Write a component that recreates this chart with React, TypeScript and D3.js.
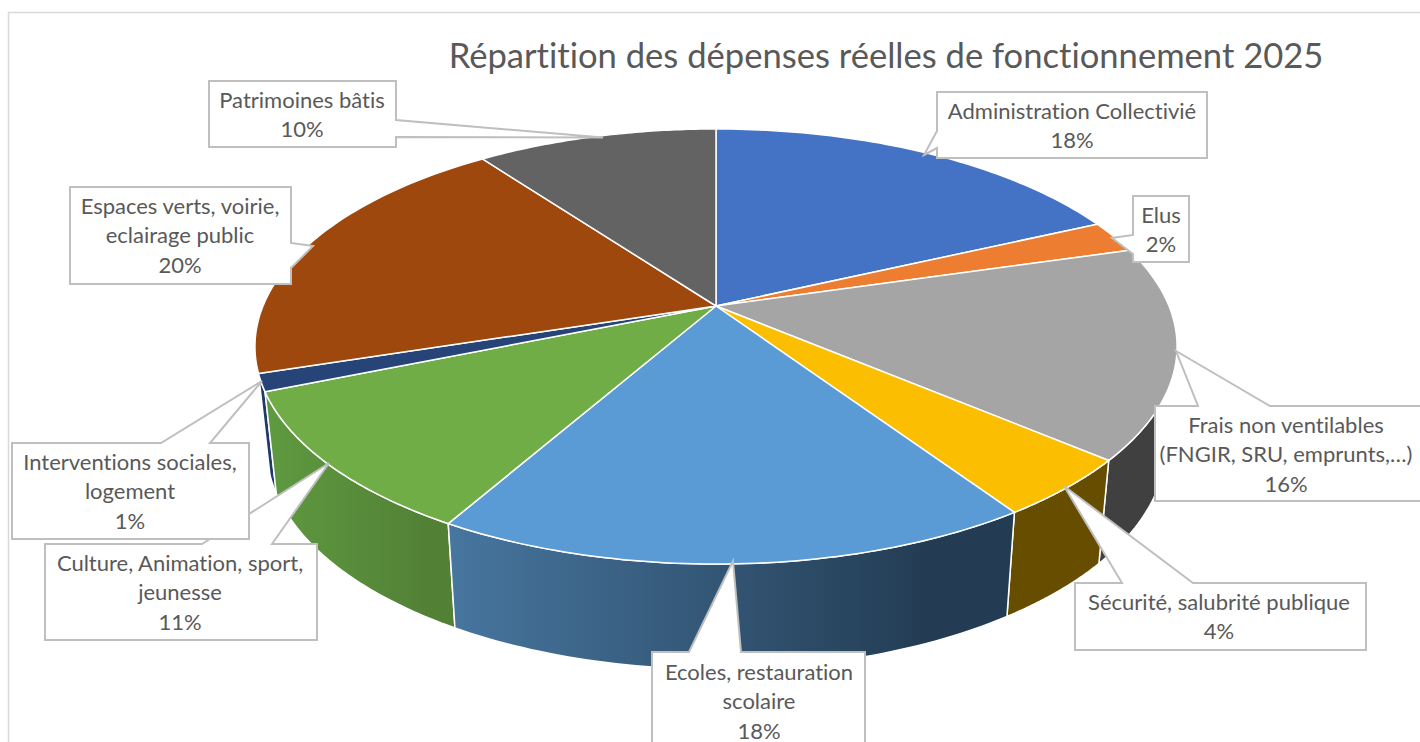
import React from "react";
import * as d3 from "d3";

const chartTitle = "Répartition des dépenses réelles de fonctionnement 2025";
const categories = [
  "Administration Collectivié", "Elus", "Frais non ventilables", "Sécurité, salubrité publique",
  "Ecoles, restauration scolaire", "Culture, Animation, sport, jeunesse", "Interventions sociales, logement",
  "Espaces verts, voirie, eclairage public", "Patrimoines bâtis",
];
const shares = [18.1, 2.4, 15.7, 4.4, 17.65, 10.55, 1.3, 19.8, 10.1];
const topColors = ["#4472c4", "#ed7d31", "#a5a5a5", "#fcbe00", "#5b9bd5", "#70ad47", "#264478", "#9e480e", "#636363"];
const wallFrom = ["#2f4f88", "#a85722", "#404040", "#664d00", "#47769f", "#5f9a40", "#1f3b6b", "#6e320a", "#454545"];
const wallTo = ["#2f4f88", "#a85722", "#404040", "#664d00", "#233c53", "#528136", "#1f3b6b", "#6e320a", "#454545"];

const W = 1420, H = 742;
const apex = { x: 716, y: 306 };
const foreshort = 0.1862, kY = 210, kX = 453;
const wall = { dy: 100, sx: 0.975, sy: 1.02 };

function rim(t: number) {
  const w = 1 + foreshort * Math.cos(t);
  return { X: (kX * Math.sin(t)) / w, Y: (-kY * Math.cos(t)) / w };
}
const topPt = (t: number): [number, number] => {
  const p = rim(t);
  return [apex.x + p.X, apex.y + p.Y];
};
const botPt = (t: number): [number, number] => {
  const p = rim(t);
  return [apex.x + wall.sx * p.X, apex.y + wall.dy + wall.sy * p.Y];
};

const arcs = d3.pie<number>().sort(null).startAngle(0).endAngle(2 * Math.PI)(shares);
const line = d3.line();
const sample = (a: number, b: number) => d3.range(0, 61).map((i) => a + ((b - a) * i) / 60);
const topPath = (a: any) => line([[apex.x, apex.y], ...sample(a.startAngle, a.endAngle).map(topPt)]) + "Z";
const wallPath = (a: any) => {
  const s = sample(a.startAngle, a.endAngle);
  return line([...s.map(topPt), ...s.slice().reverse().map(botPt)]) + "Z";
};
const frontness = (a: any) => botPt((a.startAngle + a.endAngle) / 2)[1];
const wallOrder = arcs.map((a, i) => ({ a, i })).sort((p, q) => frontness(p.a) - frontness(q.a));

// Label callouts: outline points (box with tail) and text
type Callout = { lines: string[]; cx: number; y0: number; pts: [number, number][] };
const callouts: Callout[] = [
  { lines: ["Patrimoines bâtis", "10%"], cx: 302, y0: 108,
    pts: [[209, 81], [396, 81], [396, 120], [603, 137.5], [396, 137], [396, 147], [209, 147]] },
  { lines: ["Espaces verts, voirie,", "eclairage public", "20%"], cx: 180, y0: 214,
    pts: [[70, 187], [291, 187], [291, 243], [313, 246], [291, 268], [291, 284], [70, 284]] },
  { lines: ["Administration Collectivié", "18%"], cx: 1072, y0: 119,
    pts: [[937, 92], [1207, 92], [1207, 158], [937, 158], [937, 148], [924, 155], [937, 131]] },
  { lines: ["Elus", "2%"], cx: 1161, y0: 223,
    pts: [[1133, 196], [1189, 196], [1189, 262], [1133, 262], [1133, 254], [1112, 238], [1133, 235]] },
  { lines: ["Frais non ventilables", "(FNGIR, SRU, emprunts,…)", "16%"], cx: 1286, y0: 433,
    pts: [[1155, 406], [1198, 406], [1176, 351], [1270, 406], [1430, 406], [1430, 501], [1155, 501]] },
  { lines: ["Sécurité, salubrité publique", "4%"], cx: 1219, y0: 610,
    pts: [[1075, 583], [1122, 583], [1064, 486], [1193, 583], [1366, 583], [1366, 650], [1075, 650]] },
  { lines: ["Ecoles, restauration", "scolaire", "18%"], cx: 759, y0: 680,
    pts: [[652, 652], [689, 652], [733, 561], [741, 652], [865, 652], [865, 760], [652, 760]] },
  { lines: ["Culture, Animation, sport,", "jeunesse", "11%"], cx: 180, y0: 571,
    pts: [[45, 544], [202, 544], [329, 463], [272, 544], [317, 544], [317, 640], [45, 640]] },
  { lines: ["Interventions sociales,", "logement", "1%"], cx: 130, y0: 470,
    pts: [[12, 443], [161, 443], [262, 381], [210, 443], [249, 443], [249, 539], [12, 539]] },
];

const FONT = "Lato, 'Open Sans', sans-serif";
const noLig = { fontVariantLigatures: "none" } as React.CSSProperties;

export default function App() {
  return (
    <svg width={W} height={H} viewBox={`0 0 ${W} ${H}`} style={{ position: "absolute", left: 0, top: 0, background: "#fff" }}>
      <defs>
        {arcs.map((_, i) => (
          <linearGradient key={i} id={`wall${i}`} x1="0" x2="1" y1="0" y2="0">
            <stop offset="0" stopColor={wallFrom[i]} />
            <stop offset="0.85" stopColor={wallTo[i]} />
            <stop offset="1" stopColor={wallTo[i]} />
          </linearGradient>
        ))}
      </defs>
      <path d={`M8.5 ${H}V12.5H${W}`} fill="none" stroke="#d9d9d9" strokeWidth={1.5} />
      <text x={886} y={68} textAnchor="middle" fontFamily={FONT} fontSize={34.6} fill="#595959" style={noLig}>{chartTitle}</text>
      {wallOrder.map(({ a, i }) => (
        <path key={i} d={wallPath(a)} fill={`url(#wall${i})`} stroke="#fff" strokeWidth={1.5} strokeLinejoin="round">
          <title>{categories[i]}</title>
        </path>
      ))}
      {arcs.map((a, i) => (
        <path key={i} d={topPath(a)} fill={topColors[i]} stroke="#fff" strokeWidth={1.5} strokeLinejoin="round" />
      ))}
      {callouts.map((c, i) => (
        <g key={i}>
          <path d={line(c.pts) + "Z"} fill="#fff" stroke="#bfbfbf" strokeWidth={2} />
          {c.lines.map((t, j) => (
            <text key={j} x={c.cx} y={c.y0 + j * 29.3} textAnchor="middle" fontFamily={FONT} fontSize={22} fill="#595959" style={noLig}>{t}</text>
          ))}
        </g>
      ))}
    </svg>
  );
}
